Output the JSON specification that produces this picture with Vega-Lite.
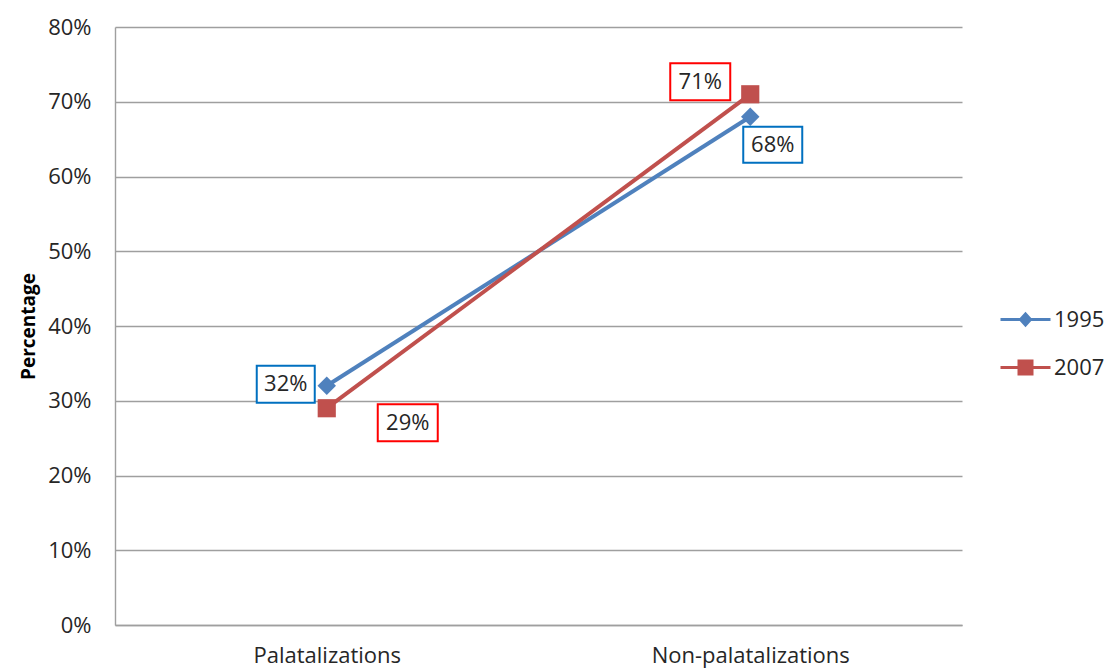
{
  "$schema": "https://vega.github.io/schema/vega-lite/v6.json",
  "autosize": "none",
  "width": 847,
  "height": 598,
  "padding": {"left": 115, "top": 27, "right": 146, "bottom": 47},
  "background": "white",
  "config": {
    "font": "Open Sans",
    "view": {"stroke": null},
    "axis": {
      "labelFont": "Open Sans",
      "labelFontSize": 22,
      "labelColor": "#262626",
      "labelLimit": 0,
      "domainColor": "#9f9f9f",
      "domainWidth": 1.4,
      "gridColor": "#9f9f9f",
      "gridWidth": 1.4,
      "ticks": false
    },
    "legend": {
      "labelFont": "Open Sans",
      "labelFontSize": 22,
      "labelColor": "#262626"
    }
  },
  "data": {
    "values": [
      {"category": "Palatalizations", "series": "1995", "value": 0.32},
      {"category": "Non-palatalizations", "series": "1995", "value": 0.68},
      {"category": "Palatalizations", "series": "2007", "value": 0.29},
      {"category": "Non-palatalizations", "series": "2007", "value": 0.71}
    ]
  },
  "encoding": {
    "x": {
      "field": "category",
      "type": "nominal",
      "sort": ["Palatalizations", "Non-palatalizations"],
      "scale": {"type": "point", "padding": 0.5},
      "axis": {"title": null, "labelAngle": 0, "labelPadding": 20, "labelLimit": 0, "grid": false, "domain": true}
    },
    "y": {
      "field": "value",
      "type": "quantitative",
      "scale": {"domain": [0, 0.8], "nice": false},
      "axis": {
        "values": [0, 0.1, 0.2, 0.3, 0.4, 0.5, 0.6, 0.7, 0.8],
        "format": ".0%",
        "labelPadding": 24,
        "grid": true,
        "title": "Percentage",
        "titleFont": "Open Sans",
        "titleFontSize": 19,
        "titleFontWeight": "bold",
        "titleColor": "#000000",
        "titleAngle": -90,
        "titleX": -87,
        "titleY": 299,
        "titleAlign": "center",
        "titleBaseline": "middle"
      }
    },
    "color": {
      "field": "series",
      "type": "nominal",
      "scale": {"domain": ["1995", "2007"], "range": ["#4f81bd", "#c0504d"]},
      "legend": {
        "title": null,
        "orient": "none",
        "legendX": 899,
        "legendY": 281,
        "padding": 0,
        "symbolSize": 400,
        "symbolStrokeWidth": 3,
        "labelOffset": 17,
        "labelLimit": 0,
        "rowPadding": 24,
        "encode": {
          "symbols": {
            "update": {
              "shape": {"signal": "datum.value == '1995' ? 'M-2.5,0H2.5M-0.5,0L0,-0.55L0.5,0L0,0.55Z' : 'M-2.5,0H2.5M-0.65,-0.65H0.65V0.65H-0.65Z'"},
              "fill": {"scale": "color", "field": "value"},
              "stroke": {"scale": "color", "field": "value"},
              "strokeWidth": {"value": 3},
              "opacity": {"value": 1},
              "fillOpacity": {"value": 1}
            }
          }
        }
      }
    }
  },
  "layer": [
    {"mark": {"type": "line", "strokeWidth": 4}},
    {
      "transform": [{"filter": "datum.series == '1995'"}],
      "mark": {"type": "point", "shape": "diamond", "filled": true, "opacity": 1, "size": 340}
    },
    {
      "transform": [{"filter": "datum.series == '2007'"}],
      "mark": {"type": "point", "shape": "square", "filled": true, "opacity": 1, "size": 330}
    },
    {
      "transform": [{"filter": "datum.series == '1995' && datum.category == 'Palatalizations'"}],
      "layer": [
        {"mark": {"type": "point", "shape": "M-70,-20H-12V17H-70Z", "size": 4, "filled": false, "fill": "white", "fillOpacity": 1, "strokeWidth": 2, "opacity": 1}, "encoding": {"color": {"value": "#0070c0"}}},
        {"mark": {"type": "text", "dx": -41, "dy": -1.5, "align": "center", "baseline": "middle", "fontSize": 22, "font": "Open Sans"}, "encoding": {"text": {"field": "value", "type": "quantitative", "format": ".0%"}, "color": {"value": "#262626"}}}
      ]
    },
    {
      "transform": [{"filter": "datum.series == '1995' && datum.category == 'Non-palatalizations'"}],
      "layer": [
        {"mark": {"type": "point", "shape": "M-7,10H52V46H-7Z", "size": 4, "filled": false, "fill": "white", "fillOpacity": 1, "strokeWidth": 2, "opacity": 1}, "encoding": {"color": {"value": "#0070c0"}}},
        {"mark": {"type": "text", "dx": 22.5, "dy": 28, "align": "center", "baseline": "middle", "fontSize": 22, "font": "Open Sans"}, "encoding": {"text": {"field": "value", "type": "quantitative", "format": ".0%"}, "color": {"value": "#262626"}}}
      ]
    },
    {
      "transform": [{"filter": "datum.series == '2007' && datum.category == 'Palatalizations'"}],
      "layer": [
        {"mark": {"type": "point", "shape": "M51,-4H111V33H51Z", "size": 4, "filled": false, "fill": "white", "fillOpacity": 1, "strokeWidth": 2, "opacity": 1}, "encoding": {"color": {"value": "#ff0000"}}},
        {"mark": {"type": "text", "dx": 81, "dy": 14.5, "align": "center", "baseline": "middle", "fontSize": 22, "font": "Open Sans"}, "encoding": {"text": {"field": "value", "type": "quantitative", "format": ".0%"}, "color": {"value": "#262626"}}}
      ]
    },
    {
      "transform": [{"filter": "datum.series == '2007' && datum.category == 'Non-palatalizations'"}],
      "layer": [
        {"mark": {"type": "point", "shape": "M-80,-31H-20V6H-80Z", "size": 4, "filled": false, "fill": "white", "fillOpacity": 1, "strokeWidth": 2, "opacity": 1}, "encoding": {"color": {"value": "#ff0000"}}},
        {"mark": {"type": "text", "dx": -50, "dy": -12.5, "align": "center", "baseline": "middle", "fontSize": 22, "font": "Open Sans"}, "encoding": {"text": {"field": "value", "type": "quantitative", "format": ".0%"}, "color": {"value": "#262626"}}}
      ]
    }
  ]
}
